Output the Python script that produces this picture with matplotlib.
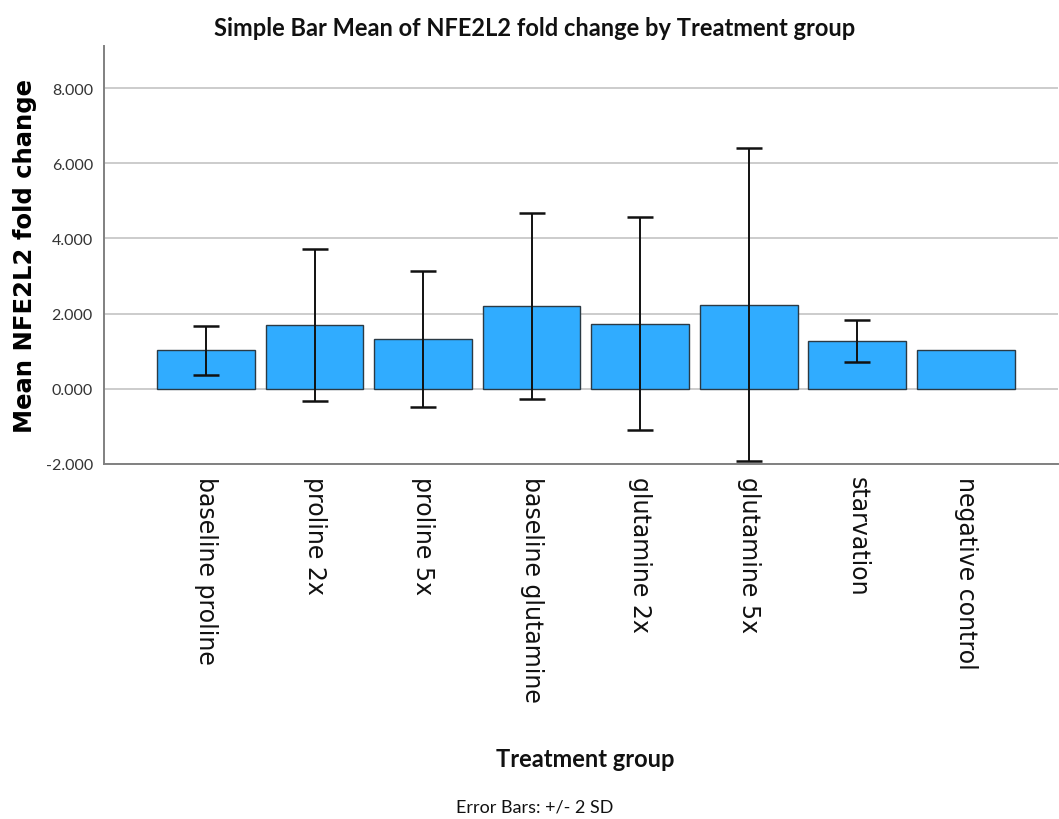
import matplotlib
matplotlib.use("Agg")
import matplotlib.pyplot as plt
import numpy as np

# Treatment groups and NFE2L2 fold change summary (mean, 2 SD)
groups = ["baseline proline", "proline 2x", "proline 5x", "baseline glutamine",
          "glutamine 2x", "glutamine 5x", "starvation", "negative control"]
means = [1.02, 1.69, 1.33, 2.20, 1.73, 2.24, 1.27, 1.02]
two_sd = [0.64, 2.02, 1.81, 2.48, 2.83, 4.17, 0.56, 0.0]
y_ticks = [-2, 0, 2, 4, 6, 8]

narrow = ["Lato", "DejaVu Sans"]

fig = plt.figure(figsize=(10.59, 8.2), dpi=100)
ax = fig.add_axes([104 / 1059, 1 - 465 / 820, (1058 - 104) / 1059, (465 - 47) / 820])

x = np.arange(len(groups))
ax.bar(x, means, width=0.9, color="#30acff", edgecolor="#2b3a44", linewidth=1.0, zorder=2)
err_x = [xi for xi, s in zip(x, two_sd) if s > 0]
err_m = [m for m, s in zip(means, two_sd) if s > 0]
err_s = [s for s in two_sd if s > 0]
ax.errorbar(err_x, err_m, yerr=err_s, fmt="none", ecolor="#111111",
            elinewidth=1.4, capsize=9.5, capthick=1.8, zorder=3)

ax.set_xlim(-0.94, 7.85)
ax.set_ylim(-2, 9.12)
ax.set_yticks(y_ticks)
ax.set_yticklabels([f"{v:.3f}" for v in y_ticks], family=narrow, fontsize=11.5, color="#333333")
ax.yaxis.grid(True, color="#c8c8c8", linewidth=1.3, zorder=0)
ax.set_axisbelow(True)

ax.set_xticks(x)
ax.set_xticklabels(groups, rotation=-90, fontsize=17, family="DejaVu Sans",
                   va="top", ha="center", color="#111111")
ax.tick_params(axis="both", length=0)
ax.tick_params(axis="x", pad=9)
ax.tick_params(axis="y", pad=8)

for side in ("top", "right"):
    ax.spines[side].set_visible(False)
for side in ("left", "bottom"):
    ax.spines[side].set_color("#808080")
    ax.spines[side].set_linewidth(1.4)

ax.set_ylabel("Mean NFE2L2 fold change", fontsize=17.5, fontweight="bold",
              family="DejaVu Sans")
ax.yaxis.set_label_coords(-0.070, 0.5)

fig.text(535 / 1059, 1 - 28 / 820, "Simple Bar Mean of NFE2L2 fold change by Treatment group",
         ha="center", va="center", fontsize=17, fontweight="bold", family=narrow, color="#111111")
fig.text(585 / 1059, 1 - 760 / 820, "Treatment group", ha="center", va="center",
         fontsize=17, fontweight="bold", family=narrow, color="#111111")
fig.text(535 / 1059, 1 - 808 / 820, "Error Bars: +/- 2 SD", ha="center", va="center",
         fontsize=13, family=narrow, color="#111111")

fig.savefig("out.png", dpi=100)
